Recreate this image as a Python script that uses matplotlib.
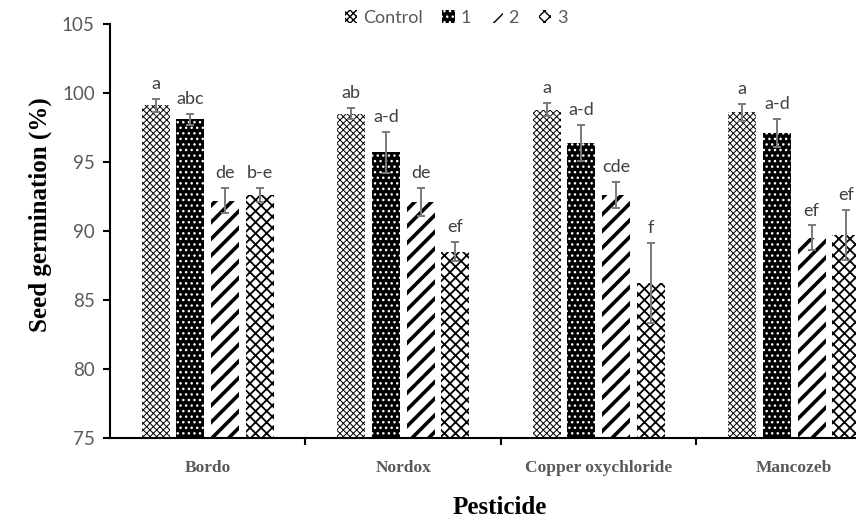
import matplotlib
matplotlib.use("Agg")
import matplotlib.pyplot as plt
import numpy as np

pesticides = ["Bordo", "Nordox", "Copper oxychloride", "Mancozeb"]
series = ["Control", "1", "2", "3"]
means = {
    "Control": [99.1, 98.5, 98.8, 98.6],
    "1": [98.1, 95.7, 96.4, 97.1],
    "2": [92.2, 92.1, 92.6, 89.5],
    "3": [92.6, 88.5, 86.2, 89.7],
}
errors = {
    "Control": [0.5, 0.4, 0.5, 0.6],
    "1": [0.4, 1.5, 1.3, 1.0],
    "2": [0.9, 1.0, 0.95, 0.9],
    "3": [0.5, 0.7, 2.9, 1.8],
}
letters = {
    "Control": ["a", "ab", "a", "a"],
    "1": ["abc", "a-d", "a-d", "a-d"],
    "2": ["de", "de", "cde", "ef"],
    "3": ["b-e", "ef", "f", "ef"],
}
yticks = [75, 80, 85, 90, 95, 100, 105]

styles = {
    "Control": dict(face="white", hcol="black", hatch="xxxxx", hlw=0.7),
    "1": dict(face="black", hcol="white", hatch="...", hlw=1.0),
    "2": dict(face="white", hcol="black", hatch="//", hlw=2.6),
    "3": dict(face="white", hcol="black", hatch="xxx", hlw=1.3),
}

W, H = 856, 518
fig = plt.figure(figsize=(W / 100, H / 100), dpi=100)
ax = fig.add_axes([110 / W, (518 - 438) / H, 782 / W, (438 - 24) / H])

x = np.arange(len(pesticides))
width = 0.143
step = 0.178
grey_txt = "#595959"

handles = []
for i, s in enumerate(series):
    st = styles[s]
    pos = x + (i - 1.5) * step
    with plt.rc_context({"hatch.linewidth": st["hlw"], "hatch.color": st["hcol"]}):
        bars = ax.bar(pos, np.array(means[s]) - 75, width, bottom=75,
                      color=st["face"], edgecolor=st["hcol"], hatch=st["hatch"],
                      linewidth=0, label=s, zorder=2)
        for b in bars:
            if hasattr(b, "set_hatch_linewidth"):
                b.set_hatch_linewidth(st["hlw"])
    handles.append(bars)
    ax.errorbar(pos, means[s], yerr=errors[s], fmt="none", ecolor="#7a7a7a",
                elinewidth=1.4, capsize=3.2, capthick=1.4, zorder=3)
    for px, m, e, t in zip(pos, means[s], errors[s], letters[s]):
        ax.annotate(t, (px, m + e), xytext=(0, 5), textcoords="offset points",
                    ha="center", va="bottom", fontsize=13, color="#404040",
                    family=["Lato", "DejaVu Sans"], annotation_clip=False)

ax.set_xlim(-0.5, 3.5)
ax.set_ylim(75, 105)
ax.set_yticks(yticks)
ax.set_yticklabels([str(v) for v in yticks], fontsize=13.5, color=grey_txt,
                   family=["Lato", "DejaVu Sans"])
ax.set_xticks(x)
ax.set_xticklabels(pesticides, fontsize=12.5, color=grey_txt, fontweight="bold",
                   family=["Liberation Serif", "DejaVu Serif"])
ax.tick_params(axis="x", which="major", length=0, pad=16)
ax.set_xticks([0.5, 1.5, 2.5], minor=True)
ax.tick_params(axis="x", which="minor", length=5, width=1.5, direction="out")
ax.tick_params(axis="y", length=5, width=1.5, direction="out", pad=6)

for side in ["top", "right"]:
    ax.spines[side].set_visible(False)
for side in ["left", "bottom"]:
    ax.spines[side].set_linewidth(1.5)

fig.text(500 / W, (518 - 508) / H, "Pesticide", ha="center", va="center",
         fontsize=18, fontweight="bold", family=["Liberation Serif", "DejaVu Serif"])
fig.text(40 / W, (518 - 215) / H, "Seed germination (%)", ha="center", va="center",
         rotation=90, fontsize=18, fontweight="bold",
         family=["Liberation Serif", "DejaVu Serif"])

leg = fig.legend(handles=handles, labels=series, loc="center", ncol=4,
                 bbox_to_anchor=(456 / W, (518 - 18) / H), frameon=False,
                 handlelength=0.7, handleheight=0.7, handletextpad=0.3,
                 columnspacing=1.1,
                 prop={"family": ["Lato", "DejaVu Sans"], "size": 13})
for t in leg.get_texts():
    t.set_color(grey_txt)

fig.savefig("out.png", dpi=100)
